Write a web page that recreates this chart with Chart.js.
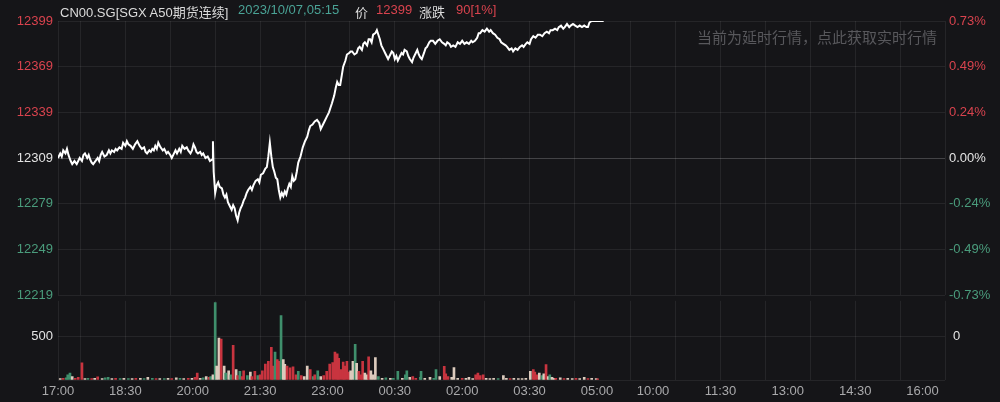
<!DOCTYPE html>
<html>
<head>
<meta charset="utf-8">
<script src="https://cdn.jsdelivr.net/npm/chart.js@4.4.0/dist/chart.umd.min.js"></script>
<style>
body{margin:0;background:#151518;width:1000px;height:402px;overflow:hidden;position:relative;font-family:"Liberation Sans",Arial,"Noto Sans CJK SC",sans-serif}
canvas{position:absolute;left:0}
#price{top:0}
#vol{top:285px}
.h{position:absolute;top:2px;font-size:13px;white-space:nowrap}
#wm{position:absolute;left:697px;top:26px;font-size:15px;color:#58585c;font-family:"Noto Sans CJK SC",sans-serif;white-space:nowrap}
</style>
</head>
<body>
<canvas id="price" width="1000" height="310"></canvas>
<canvas id="vol" width="1000" height="117"></canvas>
<div class="h" style="left:60px;color:#dcdcdc">CN00.SG[SGX A50期货连续]</div>
<div class="h" style="left:238px;color:#4aa396">2023/10/07,05:15</div>
<div class="h" style="left:355px;color:#dcdcdc">价</div>
<div class="h" style="left:376px;color:#d9434e">12399</div>
<div class="h" style="left:419px;color:#dcdcdc">涨跌</div>
<div class="h" style="left:456px;color:#d9434e">90[1%]</div>
<div id="wm">当前为延时行情，点此获取实时行情</div>
<script>
// minutes since 17:00, the 05:15-09:00 break is collapsed
const sessionMins = 1185
const prevClose = 12309

const priceTimes = [
    0,3,5,7,10,12,14,17,19,22,25,27,29,32,34,36,39,41,43,45,47,50,53,55,57,59,62,65,68,70,
    72,75,77,79,82,85,87,90,92,94,97,100,103,106,109,112,115,117,119,122,124,126,128,130,132,134,137,140,142,145,
    147,150,152,155,157,159,162,164,166,169,172,174,177,179,181,183,185,187,190,192,194,197,200,203,206,207,208,
    210,212,214,216,219,221,223,225,227,229,232,234,236,238,240,242,244,246,248,250,252,254,257,259,261,264,267,269,271,274,
    277,279,281,283,285,287,289,291,293,295,297,299,301,303,305,307,309,311,313,315,317,319,321,324,327,330,333,335,337,340,
    343,346,349,351,353,356,359,362,364,366,369,371,373,375,377,379,381,384,386,389,391,393,396,399,401,403,406,408,410,413,
    415,417,419,421,424,426,428,430,432,435,437,439,441,444,446,448,450,452,454,457,459,461,463,466,468,470,473,475,478,480,
    482,484,486,489,491,493,496,498,501,504,507,510,513,516,518,520,523,525,528,531,534,537,540,543,546,549,552,554,557,560,
    562,564,567,570,573,576,578,581,584,587,590,592,595,598,600,603,606,608,611,614,617,620,622,625,627,630,632,635,638,641,
    644,647,650,653,656,658,661,664,667,669,672,675,677,680,683,685,688,691,694,697,700,703,706,708,710,713,716,720,729,
]
const priceValues = [
    12309,12312,12310,12314,12312,12315,12311,12307,12305,12307,12305,12307,12309,12307,12311,12312,12309,12311,12308,12306,12305,12307,12309,12307,12311,12313,12310,12311,12314,12312,
    12314,12313,12315,12314,12316,12315,12319,12317,12320,12318,12317,12315,12318,12320,12317,12315,12316,12313,12312,12314,12313,12315,12314,12317,12315,12319,12316,12314,12315,12312,
    12313,12311,12309,12312,12314,12312,12315,12313,12317,12315,12316,12314,12312,12314,12318,12316,12313,12312,12313,12311,12312,12309,12310,12307,12308,12320,12300,
    12286,12291,12293,12290,12289,12285,12283,12285,12280,12278,12275,12278,12276,12271,12268,12273,12276,12278,12281,12283,12286,12288,12290,12288,12291,12294,12295,12293,12298,12299,
    12302,12303,12310,12319,12310,12303,12300,12296,12295,12288,12283,12286,12284,12287,12285,12289,12292,12290,12297,12294,12295,12300,12306,12310,12316,12320,12323,12327,12330,12331,
    12333,12334,12332,12328,12330,12333,12336,12339,12342,12345,12350,12355,12359,12357,12357,12363,12369,12373,12377,12378,12379,12379,12377,12378,12381,12382,12380,12384,12385,12383,
    12387,12387,12385,12390,12391,12393,12390,12387,12383,12380,12378,12376,12374,12377,12379,12378,12374,12376,12373,12376,12378,12377,12380,12379,12376,12374,12372,12375,12378,12380,
    12377,12375,12374,12378,12381,12382,12385,12386,12386,12384,12386,12387,12385,12384,12383,12385,12384,12382,12383,12382,12385,12384,12386,12384,12385,12384,12386,12385,12386,12388,
    12391,12391,12393,12392,12394,12392,12393,12391,12390,12388,12387,12385,12384,12383,12382,12380,12381,12379,12381,12380,12382,12383,12382,12384,12385,12384,12387,12389,12388,12390,
    12390,12389,12391,12392,12391,12393,12393,12394,12393,12395,12396,12394,12395,12397,12395,12396,12397,12396,12395,12396,12395,12396,12395,12395,12398,12399,12399,12399,12399,
]

const volTimes = [3,7,11,13,16,19,23,27,32,36,40,45,49,53,59,63,67,72,77,83,88,94,99,104,110,115,120,126,131,136,142,147,152,158,163,168,174,179,183,186,190,194,198,202,204,207,210,212,215,218,222,224,228,231,234,238,240,243,246,248,253,257,259,263,267,270,273,277,281,285,287,290,293,295,298,301,303,306,310,314,318,321,325,329,333,337,341,343,347,351,355,359,363,367,370,373,375,378,381,383,386,389,391,394,397,399,402,405,407,410,413,415,418,421,424,428,433,438,444,448,454,460,464,466,470,474,478,484,485,490,497,502,505,510,516,518,521,526,529,534,540,545,549,554,558,561,564,568,572,577,582,588,595,599,604,609,615,620,625,631,635,637,640,643,647,649,652,655,657,660,663,665,671,676,681,687,692,697,703,708,713,719,721]
const volValues = [15,20,25,60,78,40,20,30,195,15,20,15,20,35,15,25,30,15,20,15,20,15,15,20,20,15,30,20,15,15,15,20,15,25,20,15,20,20,30,78,20,25,40,30,40,60,886,160,479,468,160,80,106,60,397,120,50,100,40,106,50,90,40,100,50,60,106,181,213,372,160,319,234,213,737,234,180,160,140,150,60,100,50,40,160,120,40,60,106,40,50,100,181,200,319,300,248,120,206,160,213,90,106,213,408,190,100,60,213,80,60,266,106,60,255,40,20,25,20,20,99,20,60,106,30,40,20,30,99,20,30,20,120,40,156,70,40,30,142,20,20,20,30,15,60,80,50,60,20,15,20,15,50,20,15,20,15,15,20,100,120,90,60,80,50,70,177,40,60,30,20,20,25,15,20,15,20,15,30,15,20,15,12]
// u = up (red), d = down (green), f = flat
const volDirs = ['f','u','d','d','d','f','u','u','u','f','d','u','f','u','f','d','d','f','u','d','f','d','f','u','f','d','f','d','u','f','d','f','u','f','d','f','u','f','u','u','f','d','f','u','d','f','d','f','f','u','f','d','f','d','u','f','u','d','u','u','d','f','u','u','d','u','u','u','u','u','u','d','u','u','d','f','f','u','u','u','u','d','u','f','f','u','d','u','d','f','u','u','u','u','u','u','u','u','u','u','u','u','f','f','d','f','u','u','u','f','f','u','f','f','f','d','f','d','f','d','d','f','d','d','f','u','u','d','d','f','f','d','d','f','u','u','u','f','f','f','u','f','f','f','u','u','u','u','f','f','f','d','f','f','u','f','f','f','f','f','u','u','u','f','d','f','u','f','d','f','f','u','f','u','f','f','u','f','f','u','f']

const priceTicks = [12219,12249,12279,12309,12339,12369,12399]
const pctLabels = ['-0.73%','-0.49%','-0.24%','0.00%','0.24%','0.49%','0.73%']
const volTicks = [0,500]
const volLeftLabels = ['','500']
const volRightLabels = ['','0']
const timeTicks = [0,90,180,270,360,450,540,630,720,795,885,975,1065,1155]
const timeLabels = ['17:00','18:30','20:00','21:30','23:00','00:30','02:00','03:30','05:00','10:00','11:30','13:00','14:30','16:00']
const gridMins = [0,30,90,150,210,270,330,390,450,510,570,630,690,765,825,885,945,1005,1065,1125,1185]

const RED = '#d9434e', GREEN = '#4a9c7c', WHITE = '#e4e4e4'
const gridColor = 'rgba(255,255,255,0.07)'
const font = {family: '"Liberation Sans", Arial, sans-serif', size: 13}

function tickColor(v) {
    if (v > prevClose) return RED
    if (v < prevClose) return GREEN
    return WHITE
}

function gridAxis(showLabels) {
    let labelSet = new Set(timeTicks)
    let gridSet = new Set(gridMins)
    let all = Array.from(new Set(gridMins.concat(showLabels ? timeTicks : []))).sort((a, b) => a - b)
    return {
        type: 'linear',
        min: 0,
        max: sessionMins,
        offset: false,
        afterBuildTicks: s => { s.ticks = all.map(v => ({value: v})) },
        afterFit: s => { if (showLabels) s.height = 22 },
        grid: {
            color: c => (c.tick && gridSet.has(c.tick.value)) ? gridColor : 'rgba(0,0,0,0)',
            drawTicks: false,
            offset: false,
        },
        border: {display: false},
        ticks: {
            display: showLabels,
            autoSkip: false,
            maxRotation: 0,
            padding: 4,
            color: '#a9a9ab',
            font: font,
            callback: v => labelSet.has(v) ? timeLabels[timeTicks.indexOf(v)] : '',
        },
    }
}

new Chart(document.getElementById('price'), {
    type: 'line',
    data: {
        datasets: [{
            data: priceTimes.map((t, i) => ({x: t, y: priceValues[i]})),
            borderColor: '#ffffff',
            borderWidth: 2,
            pointRadius: 0,
            tension: 0,
        }]
    },
    options: {
        responsive: false,
        animation: false,
        layout: {padding: {top: 21, bottom: 15, left: 0, right: 0}},
        plugins: {legend: {display: false}, tooltip: {enabled: false}},
        scales: {
            x: gridAxis(false),
            y: {
                position: 'left',
                min: 12219,
                max: 12399,
                afterBuildTicks: s => { s.ticks = priceTicks.map(v => ({value: v})) },
                afterFit: s => { s.width = 58 },
                grid: {
                    color: c => (c.tick && c.tick.value === prevClose) ? 'rgba(255,255,255,0.2)' : gridColor,
                    drawTicks: false,
                },
                border: {display: false},
                ticks: {padding: 5, font: font, color: c => tickColor(c.tick.value), callback: v => String(v)},
            },
            yr: {
                position: 'right',
                min: 12219,
                max: 12399,
                afterBuildTicks: s => { s.ticks = priceTicks.map(v => ({value: v})) },
                afterFit: s => { s.width = 55 },
                grid: {display: false, drawTicks: false},
                border: {display: false},
                ticks: {
                    padding: 4,
                    font: font,
                    color: c => tickColor(c.tick.value),
                    callback: v => pctLabels[priceTicks.indexOf(v)],
                },
            },
        },
    },
})

let dirColor = {u: '#c8343f', d: '#3f8f6c', f: '#dccbbd'}

new Chart(document.getElementById('vol'), {
    type: 'bar',
    data: {
        datasets: [{
            data: volTimes.map((t, i) => ({x: t, y: volValues[i]})),
            backgroundColor: volDirs.map(d => dirColor[d]),
            barThickness: 2,
        }]
    },
    options: {
        responsive: false,
        animation: false,
        layout: {padding: {top: 10, bottom: 0, left: 0, right: 0}},
        plugins: {legend: {display: false}, tooltip: {enabled: false}},
        scales: {
            x: gridAxis(true),
            y: {
                position: 'left',
                min: 0,
                max: 905,
                afterBuildTicks: s => { s.ticks = volTicks.map(v => ({value: v})) },
                afterFit: s => { s.width = 58 },
                grid: {color: gridColor, drawTicks: false},
                border: {display: false},
                ticks: {padding: 5, font: font, color: WHITE, callback: v => volLeftLabels[volTicks.indexOf(v)]},
            },
            yr: {
                position: 'right',
                min: 0,
                max: 905,
                afterBuildTicks: s => { s.ticks = volTicks.map(v => ({value: v})) },
                afterFit: s => { s.width = 55 },
                grid: {display: false, drawTicks: false},
                border: {display: false},
                ticks: {padding: 8, font: font, color: WHITE, callback: v => volRightLabels[volTicks.indexOf(v)]},
            },
        },
    },
})
</script>
</body>
</html>
